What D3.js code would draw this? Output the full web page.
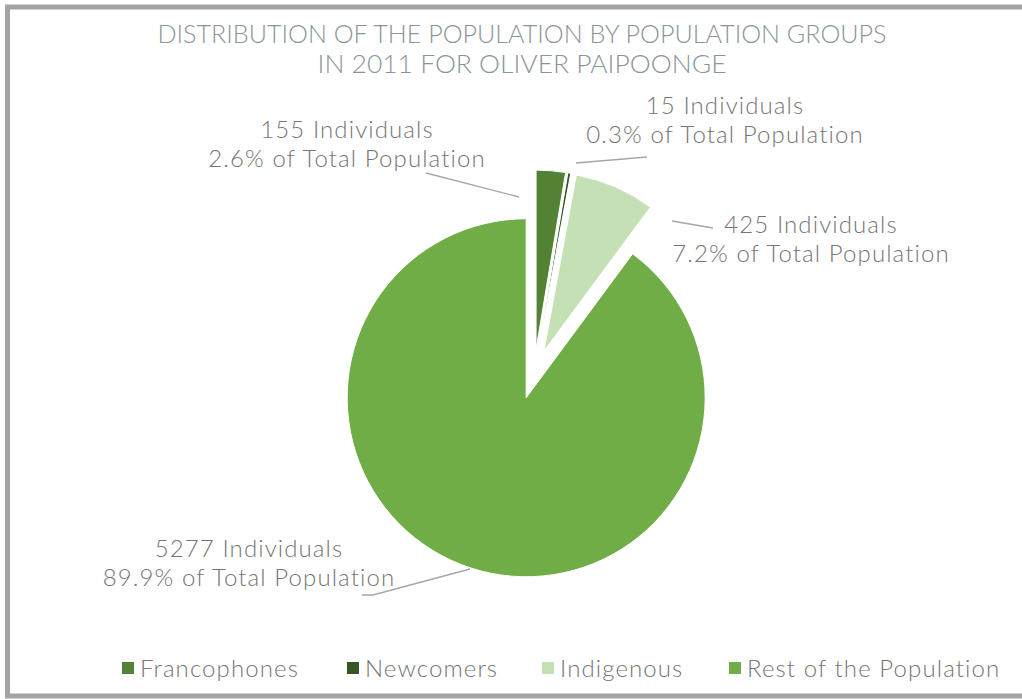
<!DOCTYPE html>
<html>
<head>
<meta charset="utf-8">
<script src="https://cdn.jsdelivr.net/npm/d3@7"></script>
<style>
  body { margin: 0; background: #fff; }
  svg { display: block; }
  text { font-family: "Lato", "DejaVu Sans", sans-serif; font-weight: 300; }
</style>
</head>
<body>
<div id="chart"></div>
<script>
// Población por grupos, Oliver Paipoonge 2011
const categories = ["Francophones", "Newcomers", "Indigenous", "Rest of the Population"];
const counts = [155, 15, 425, 5277];
const percents = ["2.6%", "0.3%", "7.2%", "89.9%"];
const colors = ["#548235", "#375623", "#C5E0B4", "#70AD47"];

// label placement (text centre + leader line) for each slice
const labelLayout = [
    { x: 347, y: 138, line: [[426, 173], [519, 197]] },
    { x: 725, y: 114, line: [[647, 157], [576, 163]] },
    { x: 811, y: 233, line: [[713, 228], [672, 221]] },
    { x: 249, y: 557, line: [[362, 595], [373, 595], [470, 569]] }
];

const width = 1022;
const height = 699;
const cx = 534, cy = 374, radius = 179, explode = 25;

const svg = d3.select("#chart")
    .append("svg")
    .attr("width", width)
    .attr("height", height);

// chart frame
svg.append("rect")
    .attr("x", 7.5)
    .attr("y", 7)
    .attr("width", width + 20)
    .attr("height", height - 10)
    .attr("fill", "none")
    .attr("stroke", "#a3a3a3")
    .attr("stroke-width", 5);

svg.append("text")
    .attr("x", 522)
    .attr("y", 43)
    .attr("text-anchor", "middle")
    .attr("fill", "#8a9599")
    .style("font-size", "26px")
    .attr("textLength", 729)
    .attr("lengthAdjust", "spacingAndGlyphs")
    .text("DISTRIBUTION OF THE POPULATION BY POPULATION GROUPS");

svg.append("text")
    .attr("x", 522)
    .attr("y", 73)
    .attr("text-anchor", "middle")
    .attr("fill", "#8a9599")
    .style("font-size", "26px")
    .attr("textLength", 409)
    .attr("lengthAdjust", "spacingAndGlyphs")
    .text("IN 2011 FOR OLIVER PAIPOONGE");

const pie = d3.pie().sort(null).value(d => d);
const arcs = pie(counts);
const arc = d3.arc().innerRadius(0).outerRadius(radius);

const g = svg.append("g").attr("transform", `translate(${cx},${cy})`);

g.selectAll(".slice")
    .data(arcs)
    .enter()
    .append("path")
    .attr("class", "slice")
    .attr("transform", d => {
        const mid = (d.startAngle + d.endAngle) / 2;
        return `translate(${explode * Math.sin(mid)},${-explode * Math.cos(mid)})`;
    })
    .attr("d", arc)
    .attr("fill", (d, i) => colors[i])
    .attr("stroke", "#fff")
    .attr("stroke-width", 1);

// leader lines
svg.selectAll(".leader")
    .data(labelLayout)
    .enter()
    .append("polyline")
    .attr("class", "leader")
    .attr("points", d => d.line.map(p => p.join(",")).join(" "))
    .attr("fill", "none")
    .attr("stroke", "#a6a6a6")
    .attr("stroke-width", 1.3);

const labels = svg.selectAll(".label")
    .data(labelLayout)
    .enter()
    .append("text")
    .attr("class", "label")
    .attr("text-anchor", "middle")
    .attr("fill", "#757575")
    .style("font-size", "24px")
    .style("letter-spacing", "1.1px");

labels.append("tspan")
    .attr("x", d => d.x)
    .attr("y", d => d.y)
    .text((d, i) => `${counts[i]} Individuals`);

labels.append("tspan")
    .attr("x", d => d.x)
    .attr("y", d => d.y + 29)
    .text((d, i) => `${percents[i]} of Total Population`);

// legend
const legendX = [122, 347, 542, 729];
const legend = svg.selectAll(".legend")
    .data(categories)
    .enter()
    .append("g")
    .attr("class", "legend")
    .attr("transform", (d, i) => `translate(${legendX[i]},662)`);

legend.append("rect")
    .attr("width", 12)
    .attr("height", 12)
    .attr("fill", (d, i) => colors[i]);

legend.append("text")
    .attr("x", 18)
    .attr("y", 15)
    .attr("fill", "#757575")
    .style("font-size", "24px")
    .style("letter-spacing", "1.1px")
    .text(d => d);
</script>
</body>
</html>
